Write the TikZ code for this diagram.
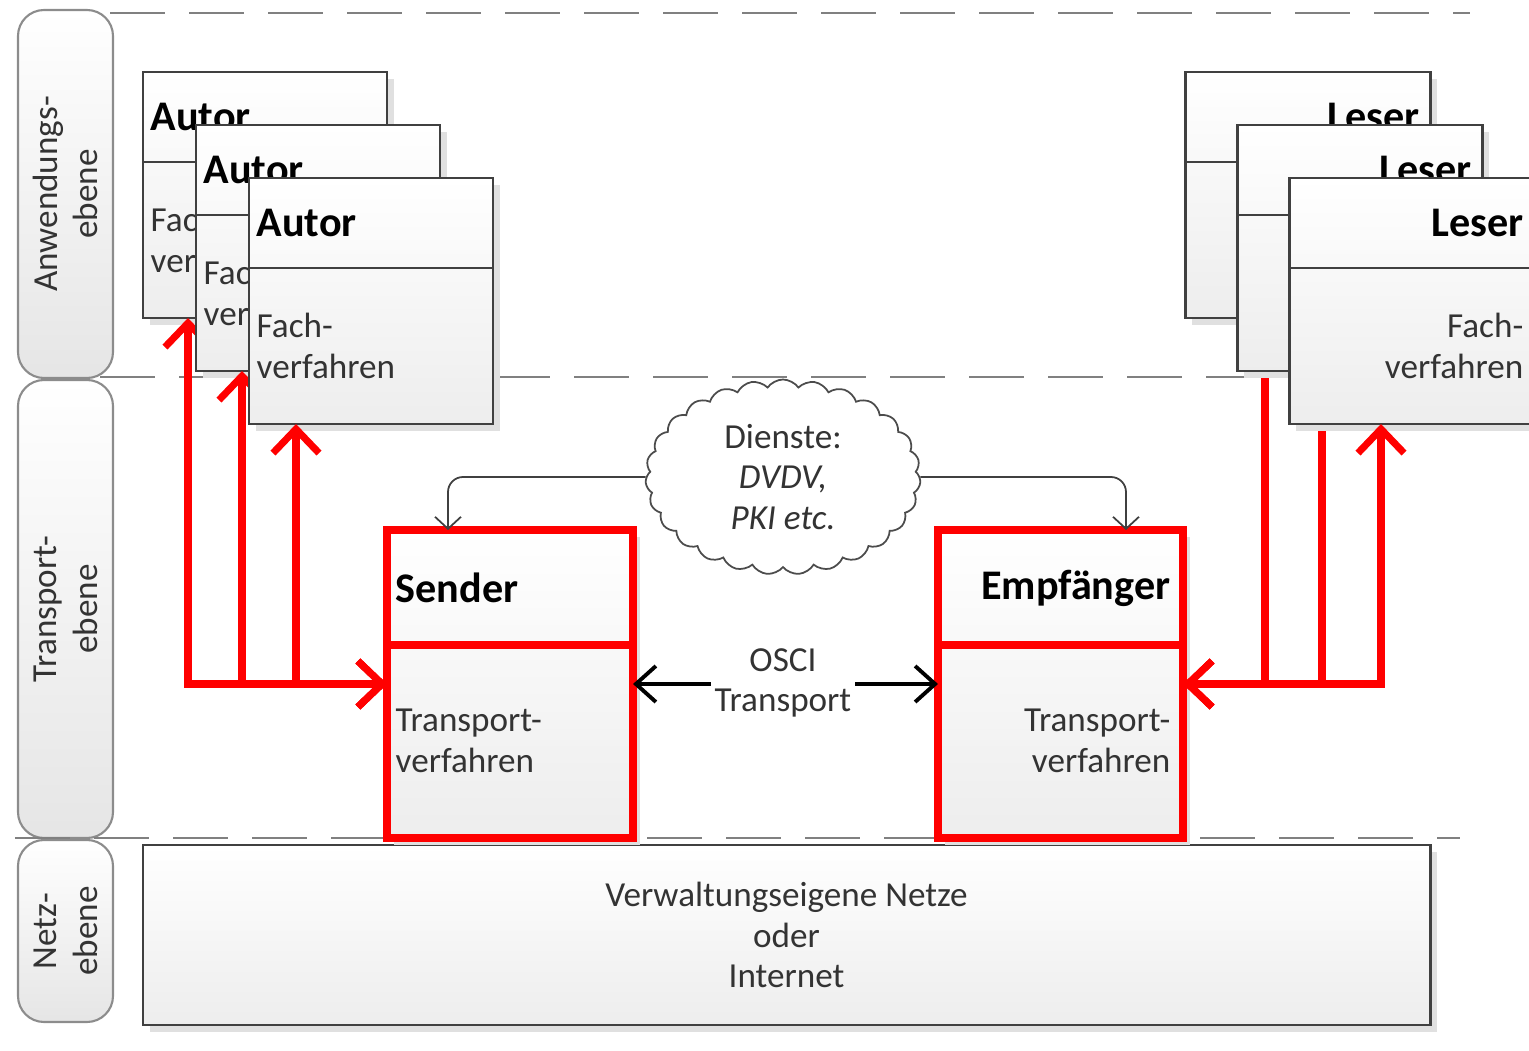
\documentclass[tikz,border=0pt]{standalone}
\usepackage{fontspec}
\setmainfont{Carlito}
\usetikzlibrary{arrows.meta,shapes.symbols,shadows}

\begin{document}
\begin{tikzpicture}[
	lane/.style={draw=black!45, line width=0.6pt, rounded corners=0.26cm, top color=white, bottom color=black!10, rotate=90, align=center, font=\fontsize{10}{11.6}\selectfont, text=black!80},
	levelline/.style={draw=black!50, line width=0.6pt, dash pattern=on 0.55cm off 0.24cm},
	box/.style={draw=black!75, line width=0.85pt, top color=white, bottom color=black!7, drop shadow={shadow xshift=0.07cm, shadow yshift=-0.07cm, fill=black!12, opacity=1}, inner sep=0pt, outer sep=0pt, anchor=north west},
	boxline/.style={draw=black!75, line width=0.85pt},
	redbox/.style={box, draw=red, line width=2.3pt},
	redline/.style={draw=red, line width=2.3pt},
	head/.style={font=\fontsize{12}{14}\selectfont\bfseries, inner sep=0pt},
	body/.style={font=\fontsize{10}{11.6}\selectfont, text=black!80, inner sep=0pt},
	flow/.style={draw=red, line width=2pt, {Straight Barb[length=2.4mm,width=4.6mm]}-{Straight Barb[length=2.4mm,width=4.6mm]}},
	osci/.style={draw=black, line width=1.1pt, -{Straight Barb[length=2mm,width=3.6mm]}},
	link/.style={draw=black!75, line width=0.5pt, rounded corners=0.15cm, -{Straight Barb[length=1.2mm,width=2.6mm]}}
]
	\useasboundingbox (0,0) rectangle (15.29,-10.51);
	% ebenen
	\node[lane, minimum width=3.68cm, minimum height=0.95cm] (anwendung) at (0.655,-1.94) {Anwendungs-\\ebene};
	\node[lane, minimum width=4.58cm, minimum height=0.95cm] (transport) at (0.655,-6.09) {Transport-\\ebene};
	\node[lane, minimum width=1.82cm, minimum height=0.95cm] (netzebene) at (0.655,-9.31) {Netz-\\ebene};
	\draw[levelline] (1.10,-0.13) -- (14.70,-0.13);
	\draw[levelline] (1.00,-3.77) -- (14.60,-3.77);
	\draw[levelline] (0.15,-8.38) -- (14.60,-8.38);

	\node[box, body, align=center, minimum width=12.87cm, minimum height=1.80cm] (netz) at (1.43,-8.45) {Verwaltungseigene Netze\\oder\\Internet};

	% sender und empfaenger
	\node[redbox, minimum width=2.46cm, minimum height=3.08cm] (sender) at (3.87,-5.30) {};
	\draw[redline] ([yshift=-1.15cm]sender.north west) -- ([yshift=-1.15cm]sender.north east);
	\node[head, anchor=west] (senderkopf) at ([xshift=0.08cm,yshift=-0.58cm]sender.north west) {Sender};
	\node[body, anchor=west, align=left] (sendertext) at ([xshift=0.08cm,yshift=-2.11cm]sender.north west) {Transport-\\verfahren};

	\node[redbox, minimum width=2.45cm, minimum height=3.08cm] (empf) at (9.38,-5.30) {};
	\draw[redline] ([yshift=-1.15cm]empf.north west) -- ([yshift=-1.15cm]empf.north east);
	\node[head, anchor=east] (empfkopf) at ([xshift=-0.12cm,yshift=-0.58cm]empf.north east) {Empfänger};
	\node[body, anchor=east, align=right] (empftext) at ([xshift=-0.12cm,yshift=-2.11cm]empf.north east) {Transport-\\verfahren};

	% dienste
	\node[cloud, draw=black!70, line width=0.5pt, cloud puffs=27, cloud puff arc=110, cloud ignores aspect, minimum width=2.75cm, minimum height=1.95cm, fill=white, body, align=center] (dienste) at (7.83,-4.77) {Dienste:\\\textit{DVDV,}\\\textit{PKI etc.}};
	\coordinate (sendin) at (4.48,0);
	\coordinate (empfin) at (11.26,0);
	\draw[link] (dienste.west) -| (sender.north -| sendin);
	\draw[link] (dienste.east) -| (empf.north -| empfin);

	\node[body, align=center, inner sep=1pt] (osci) at (7.83,-6.83) {OSCI\\Transport};
	\draw[osci] (osci.west |- sender.east) -- (sender.east);
	\draw[osci] (osci.east |- empf.west) -- (empf.west);

	% autoren
	\foreach \k/\bx in {0/1.88,1/2.42,2/2.96} {
		\coordinate (bus\k) at (\bx,0);
		\node[box, minimum width=2.44cm, minimum height=2.46cm] (autor\k) at ({1.43+0.53*\k},{-0.72-0.53*\k}) {};
		\draw[boxline] ([yshift=-0.9cm]autor\k.north west) -- ([yshift=-0.9cm]autor\k.north east);
		\node[head, anchor=west] (autorkopf\k) at ([xshift=0.07cm,yshift=-0.45cm]autor\k.north west) {Autor};
		\node[body, anchor=west, align=left] (autortext\k) at ([xshift=0.07cm,yshift=-1.68cm]autor\k.north west) {Fach-\\verfahren};
		\draw[flow] (sender.west) -| (autor\k.south -| bus\k);
	}

	% leser
	\foreach \k/\bx in {0/12.65,1/13.22,2/13.81} {
		\coordinate (lbus\k) at (\bx,0);
		\node[box, minimum width=2.45cm, minimum height=2.46cm] (leser\k) at ({11.85+0.52*\k},{-0.72-0.53*\k}) {};
		\draw[boxline] ([yshift=-0.9cm]leser\k.north west) -- ([yshift=-0.9cm]leser\k.north east);
		\node[head, anchor=east] (leserkopf\k) at ([xshift=-0.1cm,yshift=-0.45cm]leser\k.north east) {Leser};
		\node[body, anchor=east, align=right] (lesertext\k) at ([xshift=-0.1cm,yshift=-1.68cm]leser\k.north east) {Fach-\\verfahren};
		\draw[flow] (empf.east) -| (leser\k.south -| lbus\k);
	}
\end{tikzpicture}
\end{document}
